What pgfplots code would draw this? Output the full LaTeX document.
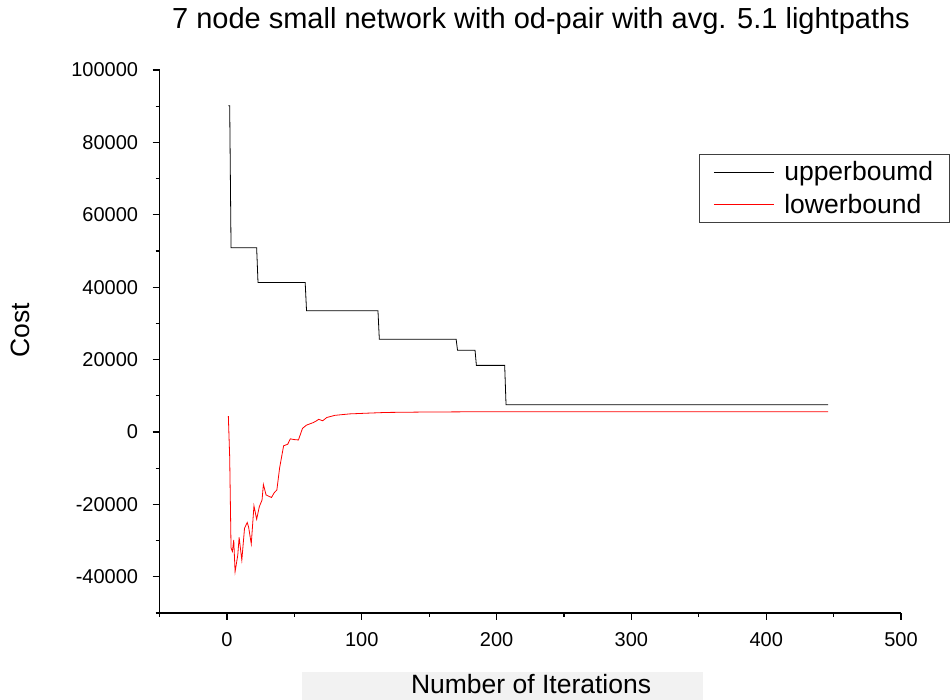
\documentclass[border=0pt]{standalone}
\usepackage{pgfplots}
\pgfplotsset{compat=1.18}
\usepackage{fontspec}
\setmainfont{Liberation Sans}

\begin{document}
\begin{tikzpicture}
% page frame: 950 x 700, axis box starts at (0,0)
\path[use as bounding box] (-159.6pt,-87pt) rectangle (790.4pt,613pt);
% light band behind the x label
\fill[black!5] (142.4pt,-87pt) rectangle (543.4pt,-59pt);
\begin{axis}[
    at={(0pt,0pt)}, anchor=south west,
    scale only axis,
    width=741.4pt, height=543pt,
    xmin=-50, xmax=500,
    ymin=-50000, ymax=100000,
    axis lines=left,
    axis line style={-, line width=1.4pt},
    xtick={0,100,...,500},
    xticklabels={0,100,200,300,400,500},
    minor xtick={-50,50,...,450},
    ytick={-40000,-20000,...,100000},
    yticklabels={-40000,-20000,0,20000,40000,60000,80000,100000},
    minor ytick={-50000,-30000,...,90000},
    tick align=outside,
    major tick length=7pt,
    minor tick length=4pt,
    tick style={line width=1.2pt, black},
    scaled ticks=false,
    tick label style={font=\fontsize{20}{24}\selectfont},
    xticklabel style={yshift=-9pt},
    yticklabel style={xshift=-11pt},
    clip=false,
    title={7 node small network with od-pair with avg. 5.1 lightpaths},
    title style={font=\fontsize{29}{34}\selectfont, at={(rel axis cs:0.5144,1.079)}, anchor=center},
    xlabel={Number of Iterations},
    xlabel style={font=\fontsize{26.5}{30}\selectfont, at={(rel axis cs:0.501,-0.1308)}, anchor=center},
    ylabel={Cost},
    ylabel style={font=\fontsize{26.5}{30}\selectfont, at={(rel axis cs:-0.1883,0.521)}, anchor=center},
    legend style={at={(rel axis cs:0.7276,0.845)}, anchor=north west,
        draw=black!75, line width=0.9pt, font=\fontsize{26.5}{30}\selectfont,
        inner xsep=14pt, inner ysep=5pt, row sep=8pt,
        /tikz/every odd column/.append style={column sep=8pt}},
    legend cell align=left,
    legend image code/.code={\draw[#1, line width=0.8pt] (0pt,0pt) -- (60pt,0pt);},
]
% upperbound
\addplot[black, line width=0.8pt] coordinates {
(1,90100) (2,90100) (3,50900) (22,50900) (23,41300) (58,41300) (59,33500)
(112,33500) (113,25600) (170,25600) (171,22600) (184,22600) (185,18400)
(206,18400) (207,7500) (446,7500)};
% lowerbound
\addplot[red, line width=0.8pt] coordinates {
(1,4400) (2,-7000) (3,-32000) (4,-33000) (5,-29800) (6,-38600) (8,-34000)
(9,-29100) (11,-35400) (13,-26600) (15,-25000) (16,-26200) (18,-30900)
(20,-20400) (22,-24100) (24,-20600) (26,-18800) (27,-14500) (29,-17400)
(33,-18100) (35,-16800) (37,-16000) (39,-10000) (42,-3800) (45,-3400)
(47,-1900) (50,-2100) (53,-2200) (56,1000) (59,1900) (64,2600) (66,3000)
(68,3500) (71,3100) (74,4000) (80,4600) (91,5000) (104,5200) (118,5400)
(143,5500) (180,5580) (250,5600) (446,5600)};
\legend{upperboumd,lowerbound}
\end{axis}
\end{tikzpicture}
\end{document}
